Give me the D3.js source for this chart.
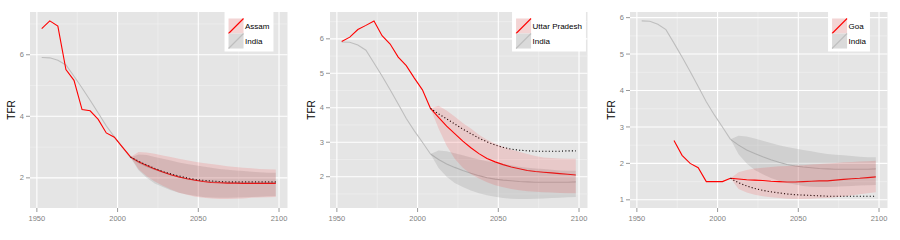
<!DOCTYPE html>
<html>
<head>
<meta charset="utf-8">
<script src="https://cdn.jsdelivr.net/npm/d3@7"></script>
<style>
  body { margin: 0; background: #fff; }
  svg { display: block; font-family: "Liberation Sans", Arial, sans-serif; }
</style>
</head>
<body>
<svg id="chart" width="900" height="240"></svg>
<script>
// years
var obsYears = [1953, 1958, 1963, 1968, 1973, 1978, 1983, 1988, 1993, 1998, 2003, 2008];
var goaObsYears = [1973, 1978, 1983, 1988, 1993, 1998, 2003, 2008];
var projYears = [2008, 2013, 2018, 2023, 2028, 2033, 2038, 2043, 2048, 2053, 2058, 2063, 2068, 2073, 2078, 2083, 2088, 2093, 2098];
var xTicks = [1950, 2000, 2050, 2100];

// India (shown in every panel)
var indiaObs = [5.91, 5.90, 5.82, 5.67, 5.30, 4.92, 4.52, 4.11, 3.69, 3.33, 3.00, 2.66];
var indiaMed = [2.66, 2.50, 2.37, 2.27, 2.18, 2.10, 2.03, 1.97, 1.93, 1.90, 1.88, 1.86, 1.85, 1.84, 1.84, 1.84, 1.84, 1.84, 1.85];
var indiaHi  = [2.66, 2.76, 2.74, 2.68, 2.62, 2.56, 2.50, 2.45, 2.41, 2.37, 2.33, 2.29, 2.26, 2.24, 2.22, 2.20, 2.18, 2.17, 2.17];
var indiaLo  = [2.66, 2.25, 2.00, 1.82, 1.70, 1.60, 1.52, 1.46, 1.42, 1.38, 1.36, 1.35, 1.35, 1.36, 1.37, 1.38, 1.39, 1.40, 1.41];

// Assam
var assamObs = [6.85, 7.10, 6.93, 5.52, 5.17, 4.22, 4.18, 3.90, 3.46, 3.32, 3.00, 2.68];
var assamMed = [2.68, 2.52, 2.40, 2.29, 2.19, 2.10, 2.03, 1.97, 1.92, 1.88, 1.85, 1.84, 1.83, 1.83, 1.82, 1.82, 1.82, 1.82, 1.82];
var assamDot = [2.68, 2.54, 2.42, 2.31, 2.21, 2.13, 2.06, 2.00, 1.95, 1.92, 1.90, 1.88, 1.87, 1.87, 1.87, 1.87, 1.87, 1.87, 1.87];
var assamHi  = [2.68, 2.84, 2.82, 2.78, 2.73, 2.68, 2.62, 2.57, 2.52, 2.48, 2.45, 2.42, 2.38, 2.35, 2.33, 2.31, 2.29, 2.28, 2.27];
var assamLo  = [2.68, 2.28, 2.05, 1.88, 1.74, 1.62, 1.52, 1.45, 1.39, 1.35, 1.33, 1.31, 1.31, 1.32, 1.33, 1.35, 1.36, 1.37, 1.38];

// Uttar Pradesh
var upObs = [5.92, 6.05, 6.27, 6.39, 6.52, 6.09, 5.85, 5.47, 5.22, 4.86, 4.52, 3.98];
var upMed = [3.98, 3.72, 3.47, 3.25, 3.03, 2.84, 2.67, 2.53, 2.43, 2.35, 2.28, 2.23, 2.18, 2.15, 2.13, 2.11, 2.09, 2.07, 2.05];
var upDot = [3.98, 3.82, 3.68, 3.53, 3.38, 3.25, 3.12, 3.01, 2.92, 2.85, 2.80, 2.77, 2.75, 2.74, 2.74, 2.74, 2.74, 2.75, 2.75];
var upHi  = [3.98, 4.06, 3.92, 3.75, 3.56, 3.40, 3.22, 3.07, 2.96, 2.87, 2.79, 2.72, 2.66, 2.60, 2.56, 2.54, 2.53, 2.52, 2.52];
var upLo  = [3.98, 3.40, 2.90, 2.52, 2.26, 2.08, 1.95, 1.84, 1.75, 1.69, 1.64, 1.61, 1.58, 1.56, 1.55, 1.54, 1.53, 1.52, 1.52];

// Goa
var goaObs = [2.63, 2.22, 2.00, 1.88, 1.50, 1.50, 1.50, 1.59];
var goaMed = [1.59, 1.57, 1.55, 1.54, 1.53, 1.51, 1.50, 1.49, 1.49, 1.50, 1.51, 1.52, 1.52, 1.54, 1.56, 1.58, 1.59, 1.61, 1.63];
var goaDot = [1.59, 1.47, 1.38, 1.31, 1.26, 1.22, 1.19, 1.16, 1.14, 1.13, 1.12, 1.11, 1.10, 1.10, 1.10, 1.10, 1.10, 1.10, 1.10];
var goaHi  = [1.59, 1.76, 1.82, 1.86, 1.88, 1.90, 1.92, 1.93, 1.94, 1.95, 1.97, 1.98, 2.00, 2.01, 2.03, 2.04, 2.05, 2.06, 2.07];
var goaLo  = [1.59, 1.30, 1.20, 1.14, 1.10, 1.07, 1.05, 1.03, 1.02, 1.02, 1.03, 1.04, 1.05, 1.07, 1.09, 1.12, 1.15, 1.18, 1.21];

var panels = [
  {name: "Assam", obsYears: obsYears, obs: assamObs, med: assamMed, dot: assamDot, hi: assamHi, lo: assamLo, yTicks: [2, 4, 6]},
  {name: "Uttar Pradesh", obsYears: obsYears, obs: upObs, med: upMed, dot: upDot, hi: upHi, lo: upLo, yTicks: [2, 3, 4, 5, 6]},
  {name: "Goa", obsYears: goaObsYears, obs: goaObs, med: goaMed, dot: goaDot, hi: goaHi, lo: goaLo, yTicks: [1, 2, 3, 4, 5, 6]}
];

var svg = d3.select("#chart");
// careful: "top" is taken on window, so prefix the margins
var pw = 300, pLeft = 30, pRight = 287.5, pTop = 12, pBottom = 208;
var grey = "#7f7f7f";

function zip(xs, ys) { return xs.map(function(x, i) { return {x: x, y: ys[i]}; }); }
function zipBand(xs, lo, hi) { return xs.map(function(x, i) { return {x: x, lo: lo[i], hi: hi[i]}; }); }

panels.forEach(function(p, pi) {
  var g = svg.append("g").attr("transform", "translate(" + (pi * pw) + ",0)");

  var allY = [].concat(p.obs, p.hi, p.lo, p.med, p.dot, indiaObs, indiaHi, indiaLo);
  var yMin = d3.min(allY), yMax = d3.max(allY), yPad = (yMax - yMin) * 0.05;
  var xMin = d3.min(obsYears), xMax = d3.max(projYears), xPad = (xMax - xMin) * 0.05;

  var x = d3.scaleLinear().domain([xMin - xPad, xMax + xPad]).range([pLeft, pRight]);
  var y = d3.scaleLinear().domain([yMin - yPad, yMax + yPad]).range([pBottom, pTop]);

  g.append("rect").attr("x", pLeft).attr("y", pTop).attr("width", pRight - pLeft).attr("height", pBottom - pTop).attr("fill", "#e5e5e5");

  // minor grid
  var step = p.yTicks[1] - p.yTicks[0];
  var yMinor = [];
  for (var v = p.yTicks[0] - step / 2; v <= p.yTicks[p.yTicks.length - 1] + step / 2; v += step) {
    if (v > y.domain()[0] && v < y.domain()[1]) yMinor.push(v);
  }
  var xMinor = [1975, 2025, 2075];
  g.selectAll(".ymin").data(yMinor).enter().append("line")
    .attr("x1", pLeft).attr("x2", pRight).attr("y1", function(d) { return y(d); }).attr("y2", function(d) { return y(d); })
    .attr("stroke", "#f2f2f2").attr("stroke-width", 0.6);
  g.selectAll(".xmin").data(xMinor).enter().append("line")
    .attr("y1", pTop).attr("y2", pBottom).attr("x1", function(d) { return x(d); }).attr("x2", function(d) { return x(d); })
    .attr("stroke", "#f2f2f2").attr("stroke-width", 0.6);

  // major grid
  g.selectAll(".ymaj").data(p.yTicks).enter().append("line")
    .attr("x1", pLeft).attr("x2", pRight).attr("y1", function(d) { return y(d); }).attr("y2", function(d) { return y(d); })
    .attr("stroke", "#fff").attr("stroke-width", 1.1);
  g.selectAll(".xmaj").data(xTicks).enter().append("line")
    .attr("y1", pTop).attr("y2", pBottom).attr("x1", function(d) { return x(d); }).attr("x2", function(d) { return x(d); })
    .attr("stroke", "#fff").attr("stroke-width", 1.1);

  var line = d3.line().x(function(d) { return x(d.x); }).y(function(d) { return y(d.y); });
  var area = d3.area().x(function(d) { return x(d.x); }).y0(function(d) { return y(d.lo); }).y1(function(d) { return y(d.hi); });

  // lines
  g.append("path").attr("d", line(zip(obsYears, indiaObs))).attr("fill", "none").attr("stroke", "#bebebe").attr("stroke-width", 1.1);
  g.append("path").attr("d", line(zip(projYears, indiaMed))).attr("fill", "none").attr("stroke", "#bebebe").attr("stroke-width", 1.1);
  g.append("path").attr("d", line(zip(p.obsYears, p.obs))).attr("fill", "none").attr("stroke", "#ff0000").attr("stroke-width", 1.1);
  g.append("path").attr("d", line(zip(projYears, p.med))).attr("fill", "none").attr("stroke", "#ff0000").attr("stroke-width", 1.1);
  g.append("path").attr("d", line(zip(projYears, p.dot))).attr("fill", "none").attr("stroke", "#000").attr("stroke-width", 1.1)
    .attr("stroke-dasharray", "1.1,2.2");

  // ribbons
  g.append("path").attr("d", area(zipBand(projYears, indiaLo, indiaHi))).attr("fill", "#7f7f7f").attr("fill-opacity", 0.2);
  g.append("path").attr("d", area(zipBand(projYears, p.lo, p.hi))).attr("fill", "#ff0000").attr("fill-opacity", 0.12);

  // axes
  g.selectAll(".yt").data(p.yTicks).enter().append("line")
    .attr("x1", pLeft - 4).attr("x2", pLeft).attr("y1", function(d) { return y(d); }).attr("y2", function(d) { return y(d); })
    .attr("stroke", grey).attr("stroke-width", 0.8);
  g.selectAll(".yl").data(p.yTicks).enter().append("text")
    .attr("x", pLeft - 6).attr("y", function(d) { return y(d); }).attr("dy", "0.35em")
    .attr("text-anchor", "end").attr("font-size", 7.5).attr("fill", grey).text(function(d) { return d; });
  g.selectAll(".xt").data(xTicks).enter().append("line")
    .attr("y1", pBottom).attr("y2", pBottom + 4).attr("x1", function(d) { return x(d); }).attr("x2", function(d) { return x(d); })
    .attr("stroke", grey).attr("stroke-width", 0.8);
  g.selectAll(".xl").data(xTicks).enter().append("text")
    .attr("x", function(d) { return x(d); }).attr("y", 221)
    .attr("text-anchor", "middle").attr("font-size", 7.5).attr("fill", grey).text(function(d) { return d; });

  g.append("text").attr("transform", "translate(15," + ((pTop + pBottom) / 2) + ") rotate(-90)")
    .attr("text-anchor", "middle").attr("font-size", 10).attr("fill", "#000").text("TFR");

  // legend
  var leg = g.append("g");
  var box = leg.append("rect").attr("y", pTop).attr("height", 39.5).attr("fill", "#fff");
  var items = [{label: p.name, fill: "#ff0000", op: 0.12, stroke: "#ff0000"},
               {label: "India", fill: "#7f7f7f", op: 0.2, stroke: "#bebebe"}];
  var widths = [];
  items.forEach(function(it, i) {
    var ky = 18.5 + i * 15;
    var kg = leg.append("g").attr("class", "key");
    kg.append("rect").attr("x", 0).attr("y", ky).attr("width", 15).attr("height", 15).attr("fill", "#f2f2f2");
    kg.append("rect").attr("x", 0).attr("y", ky).attr("width", 15).attr("height", 15).attr("fill", it.fill).attr("fill-opacity", it.op);
    kg.append("line").attr("x1", 0).attr("y1", ky + 15).attr("x2", 15).attr("y2", ky)
      .attr("stroke", it.stroke).attr("stroke-width", 1.1);
    var t = leg.append("text").attr("x", 16.5).attr("y", ky + 7.5).attr("dy", "0.35em")
      .attr("font-size", 8).attr("fill", "#000").text(it.label);
    widths.push(t.node().getComputedTextLength());
  });
  var innerW = 16.5 + d3.max(widths);
  var boxW = innerW + 8;
  var cx = 249;
  box.attr("x", -4).attr("width", boxW);
  leg.attr("transform", "translate(" + (cx - boxW / 2 + 4) + ",0)");
});
</script>
</body>
</html>
